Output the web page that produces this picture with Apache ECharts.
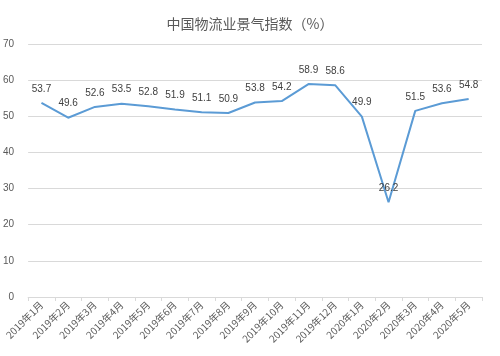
<!DOCTYPE html>
<html><head><meta charset="utf-8">
<script src="https://cdn.jsdelivr.net/npm/echarts@6/dist/echarts.min.js"></script>
<style>html,body{margin:0;padding:0;background:#fff}#c{width:500px;height:356px}</style>
</head><body><div id="c"></div>
<script>
const categories = ['2019年1月','2019年2月','2019年3月','2019年4月','2019年5月','2019年6月','2019年7月','2019年8月','2019年9月','2019年10月','2019年11月','2019年12月','2020年1月','2020年2月','2020年3月','2020年4月','2020年5月'];
const values = [53.7,49.6,52.6,53.5,52.8,51.9,51.1,50.9,53.8,54.2,58.9,58.6,49.9,26.2,51.5,53.6,54.8];
const chart = echarts.init(document.getElementById('c'));
chart.setOption({
  animation:false,
  title:{text:'中国物流业景气指数（%）',left:'center',top:12,textStyle:{fontSize:14,fontWeight:'normal',color:'#595959',fontFamily:'Noto Sans CJK SC'}},
  grid:{left:28,right:18,top:44,bottom:59},
  xAxis:{type:'category',data:categories,boundaryGap:true,
    axisLine:{lineStyle:{color:'#d9d9d9'}},
    axisTick:{show:true,lineStyle:{color:'#d9d9d9'},length:4},
    axisLabel:{rotate:45,fontSize:10,color:'#595959',interval:0,margin:6,fontFamily:'Noto Sans CJK SC'}},
  yAxis:{type:'value',min:0,max:70,interval:10,
    axisLine:{show:false},axisTick:{show:false},
    axisLabel:{fontSize:10,color:'#595959',margin:14},
    splitLine:{lineStyle:{color:'#d9d9d9'}}},
  series:[{type:'line',data:values,showSymbol:true,showAllSymbol:true,symbol:'circle',symbolSize:2,
    itemStyle:{color:'rgba(91,155,213,0)'},
    lineStyle:{color:'#5B9BD5',width:2},
    labelLayout:{hideOverlap:false},
    label:{show:true,position:'top',fontSize:10,color:'#404040',distance:8}}]
});
</script></body></html>
